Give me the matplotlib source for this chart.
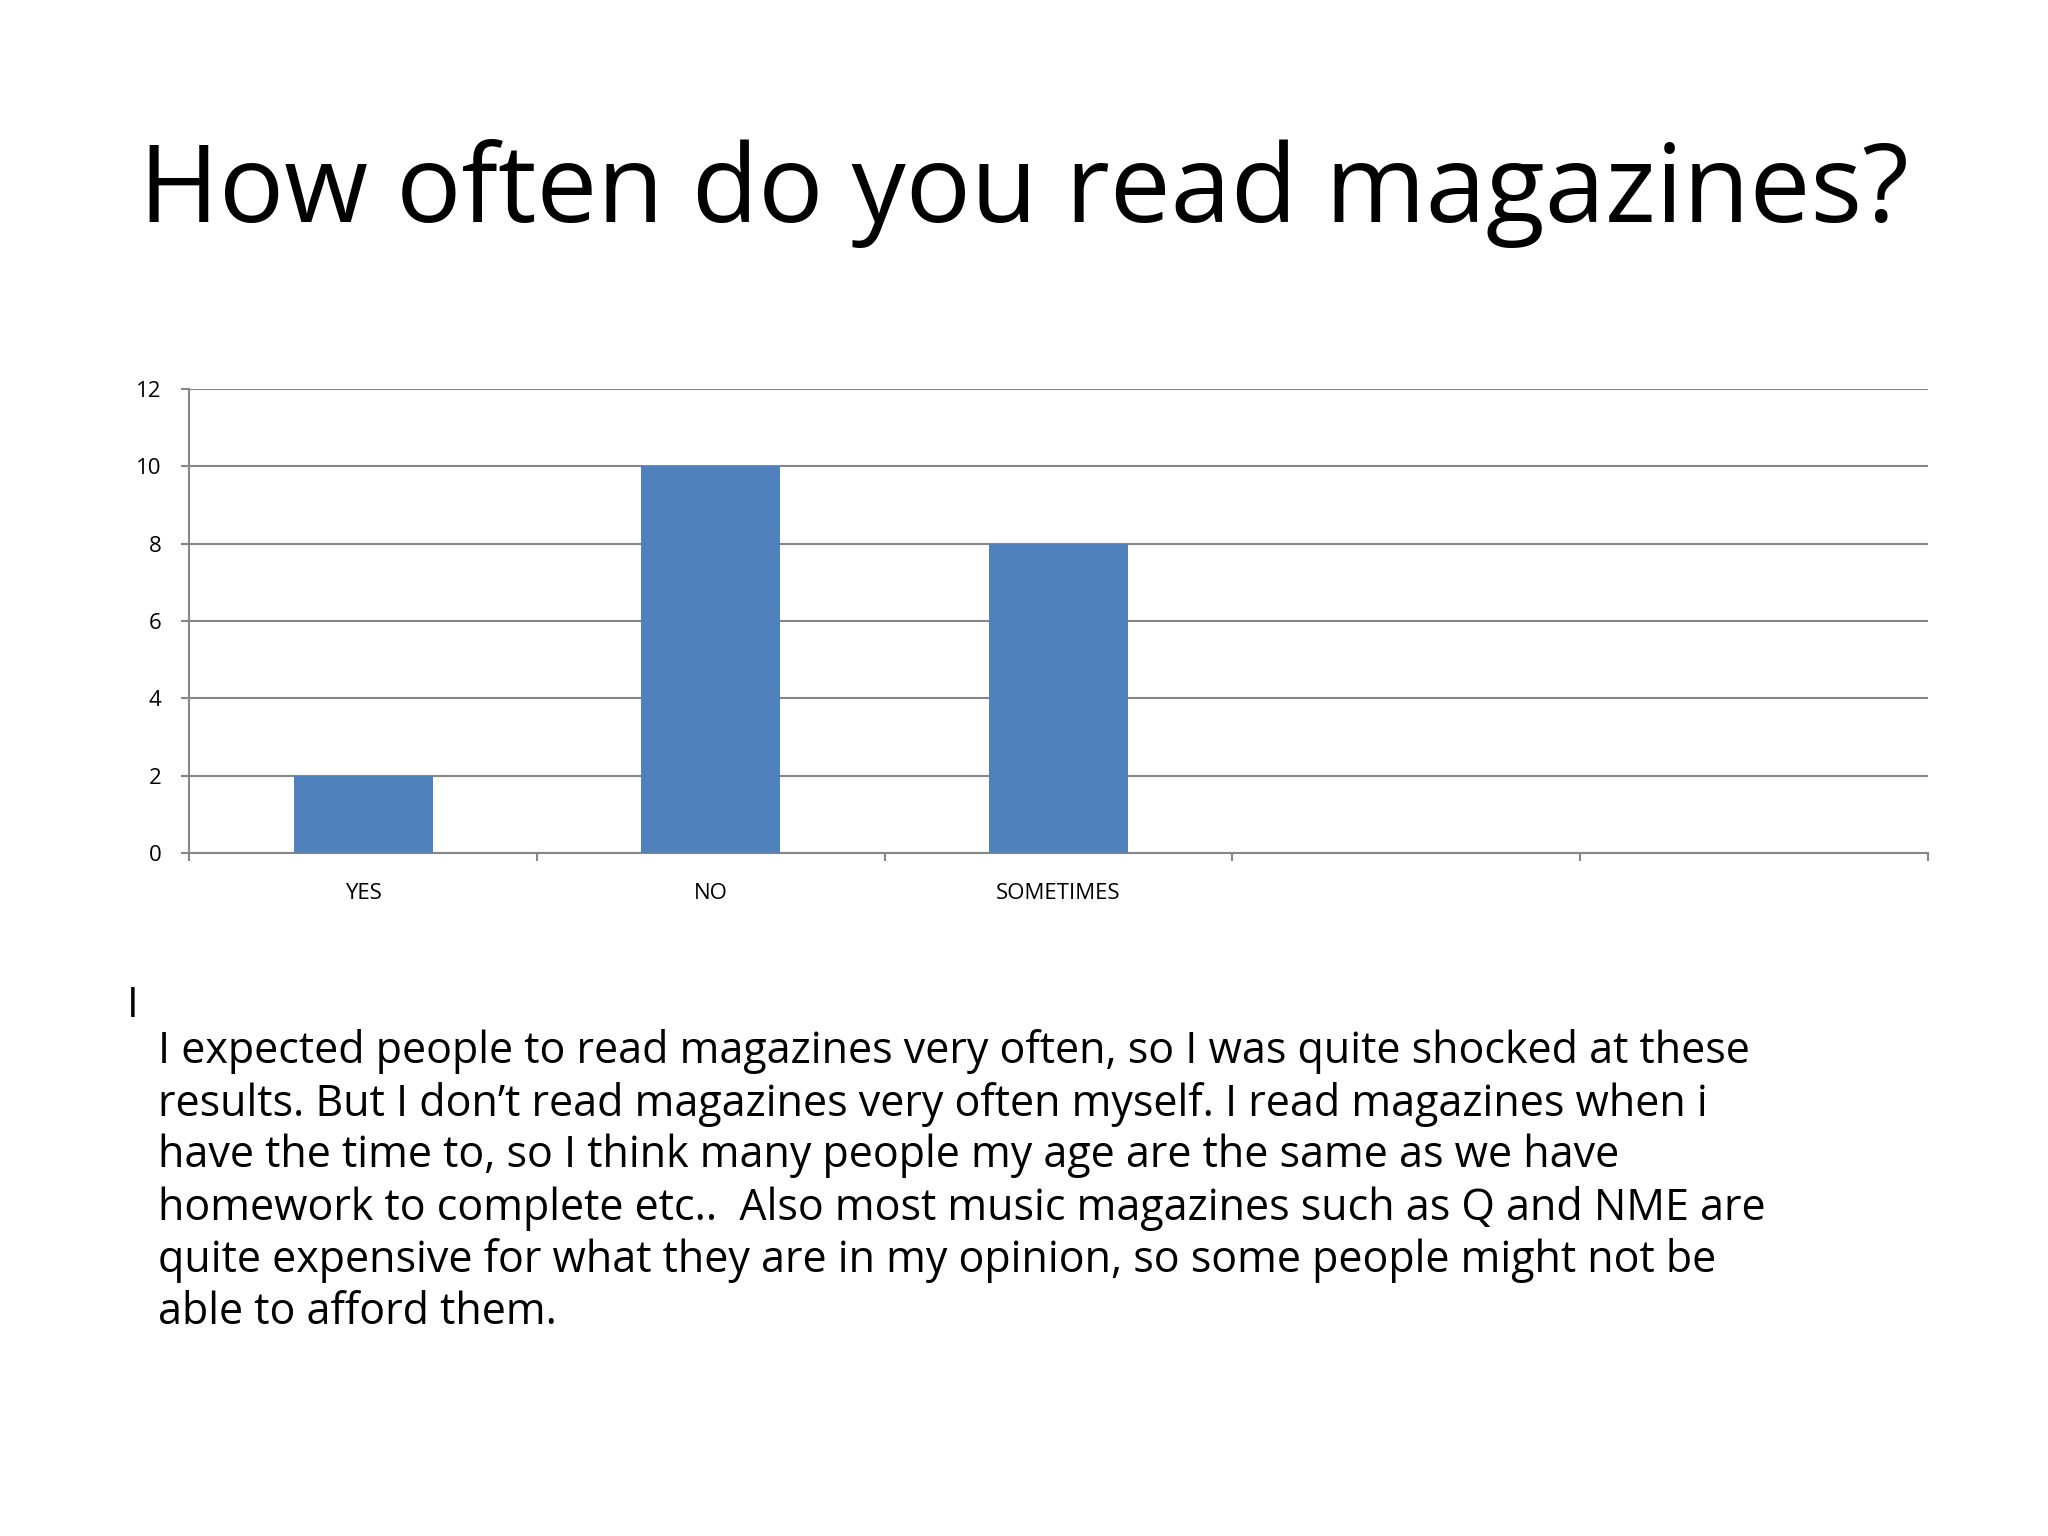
import matplotlib.pyplot as plt
import numpy as np

categories = ["YES", "NO", "SOMETIMES", "", ""]
counts = [2, 10, 8, 0, 0]
yticks = [0, 2, 4, 6, 8, 10, 12]

body = ("I expected people to read magazines very often, so I was quite shocked at these\n"
        "results. But I don\u2019t read magazines very often myself. I read magazines when i\n"
        "have the time to, so I think many people my age are the same as we have\n"
        "homework to complete etc..  Also most music magazines such as Q and NME are\n"
        "quite expensive for what they are in my opinion, so some people might not be\n"
        "able to afford them.")

plt.rcParams['font.family'] = ['Open Sans', 'DejaVu Sans']
fig = plt.figure(figsize=(20.48, 15.36), dpi=100)
ax = fig.add_axes([0.0925, 0.4447, 0.8488, 0.302])

x = np.arange(len(categories))
ax.bar(x[:3], counts[:3], width=0.4, color="#4f81bd", zorder=3)
ax.set_xlim(-0.5, len(categories) - 0.5)
ax.set_ylim(0, 12)
ax.set_yticks(yticks)
ax.grid(axis="y", color="#868686", linewidth=1.5, zorder=0)
ax.set_xticks(x)
ax.set_xticklabels(categories, fontsize=16)
ax.set_xticks(np.arange(len(categories) + 1) - 0.5, minor=True)
ax.tick_params(axis="x", which="major", length=0, pad=22)
ax.tick_params(axis="x", which="minor", length=6, color="#868686", width=1.5)
ax.tick_params(axis="y", labelsize=16, length=6, color="#868686", width=1.5, pad=14)
for s in ["top", "right"]:
    ax.spines[s].set_visible(False)
for s in ["left", "bottom"]:
    ax.spines[s].set_color("#868686")
    ax.spines[s].set_linewidth(1.5)

fig.text(0.5, 0.874, "How often do you read magazines?", ha="center", va="center", fontsize=78)
fig.text(0.062, 0.345, "I", fontsize=30, va="center")
fig.text(0.077, 0.33, body, fontsize=31, va="top", linespacing=1.22)

fig.savefig("out.png")
